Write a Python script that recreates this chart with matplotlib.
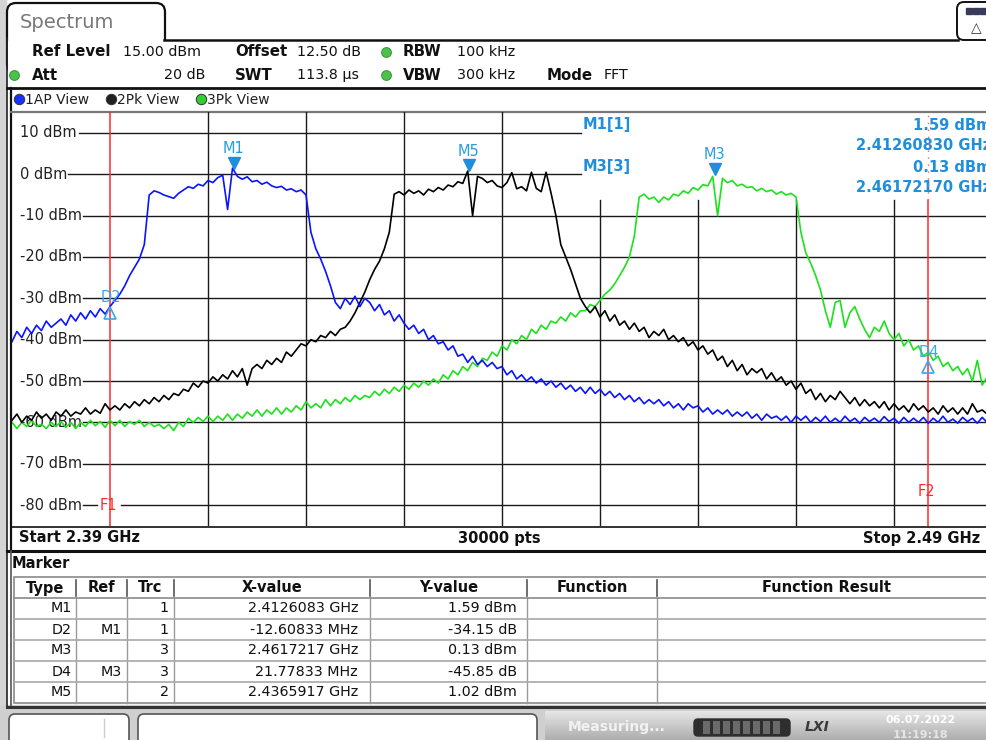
import numpy as np
import matplotlib.pyplot as plt
from matplotlib.patches import Rectangle, FancyBboxPatch
from matplotlib.transforms import offset_copy

W, H = 987, 740

# sweep 2.39 .. 2.49 GHz, one value every 0.5 MHz
freq_mhz = np.arange(2390.0, 2490.01, 0.5)

# trace 1, average detector (blue)
trace1_ap = [
    -40.5, -38.0, -39.5, -37.0, -38.5, -36.5, -37.8, -35.5, -37.0, -36.0,
    -35.0, -36.5, -34.0, -35.5, -33.5, -35.0, -33.0, -34.5, -32.5, -33.8,
    -32.0, -30.5, -29.0, -27.0, -24.5, -22.5, -20.5, -17.0, -5.0, -4.0,
    -4.4, -5.0, -5.4, -5.8, -4.6, -3.8, -3.0, -3.4, -2.4, -2.8,
    -1.5, -2.0, -0.8, -0.2, -8.5, 1.5, -0.5, -1.2, -0.6, -1.8,
    -1.5, -2.4, -1.9, -2.8, -3.2, -2.9, -3.8, -3.5, -4.2, -3.8,
    -5.0, -14.0, -18.0, -20.5, -23.5, -27.0, -31.0, -32.5, -30.0, -31.5,
    -29.5, -32.0, -30.0, -31.0, -33.0, -31.5, -34.0, -33.0, -35.5, -34.0,
    -36.0, -37.5, -36.5, -38.5, -37.5, -40.0, -39.0, -41.0, -40.5, -42.5,
    -41.5, -44.0, -43.5, -45.5, -44.0, -46.0, -45.0, -46.5, -45.5, -47.0,
    -46.5, -48.5, -47.5, -49.5, -48.5, -50.0, -49.0, -50.5, -49.5, -51.0,
    -50.0, -51.5, -50.5, -52.0, -51.0, -52.5, -51.5, -53.0, -51.5, -53.0,
    -52.0, -53.5, -52.5, -54.0, -53.0, -54.5, -53.5, -55.0, -54.0, -55.5,
    -54.5, -55.5, -54.5, -56.0, -55.0, -56.5, -55.5, -57.0, -55.5, -56.5,
    -56.0, -57.5, -56.5, -58.0, -57.0, -58.0, -57.0, -58.5, -57.5, -58.5,
    -57.5, -59.0, -58.0, -59.5, -58.0, -59.0, -58.5, -59.5, -58.5, -60.0,
    -58.5, -59.5, -58.5, -60.0, -58.8, -59.8, -58.5, -60.0, -59.0, -60.0,
    -58.5, -59.8, -59.0, -60.2, -58.8, -59.8, -59.0, -60.0, -58.6, -59.8,
    -59.0, -60.2, -58.8, -60.0, -59.0, -60.0, -58.8, -60.2, -59.0, -60.0,
    -58.5, -60.0, -59.2, -60.2, -58.8, -59.8, -59.0, -60.2, -58.8, -60.0,
    -59.5,
]

# trace 2, max peak (black)
trace2_pk = [
    -59.5, -58.0, -60.0, -58.5, -59.5, -57.5, -59.0, -58.0, -59.5, -57.5,
    -58.5, -57.0, -58.5, -57.5, -58.0, -56.5, -58.0, -57.0, -57.8, -55.5,
    -57.0, -56.0, -57.0, -55.5, -56.5, -55.0, -56.0, -54.5, -55.5, -54.0,
    -55.0, -53.5, -54.5, -53.0, -53.5, -52.0, -52.5, -50.5, -51.5, -50.0,
    -50.5, -49.0, -50.0, -48.5, -49.5, -47.5, -49.0, -47.0, -51.0, -47.0,
    -46.0, -47.0, -45.0, -46.0, -44.5, -45.5, -43.0, -44.0, -42.5, -41.0,
    -41.5, -40.0, -40.5, -39.0, -39.5, -38.0, -39.0, -37.5, -37.0, -35.5,
    -33.5, -31.0, -28.5, -25.5, -23.0, -21.0, -18.0, -14.0, -4.8, -4.2,
    -5.0, -3.8, -4.6, -4.0, -5.0, -3.6, -4.2, -3.2, -3.8, -2.6,
    -3.0, -1.8, -2.2, 0.8, -10.0, -0.5, -1.0, -2.0, -1.5, -2.8,
    -3.2, -2.0, 0.4, -3.5, -3.0, -4.0, 0.5, -3.4, -4.2, 0.5,
    -4.5, -10.0, -17.0, -20.0, -23.0, -26.5, -30.0, -32.0, -33.5, -32.0,
    -34.5, -33.0, -35.5, -34.0, -36.5, -35.5, -37.5, -36.0, -38.0, -37.0,
    -39.5, -38.0, -39.0, -37.5, -40.0, -39.0, -40.5, -39.5, -41.5, -40.5,
    -42.5, -41.5, -43.5, -42.5, -45.0, -44.0, -46.5, -45.0, -47.5, -46.0,
    -48.5, -47.0, -48.0, -47.0, -49.5, -48.0, -50.0, -49.0, -51.0, -50.0,
    -52.0, -50.5, -53.0, -52.0, -54.5, -53.0, -55.0, -53.5, -54.5, -52.5,
    -54.0, -55.5, -54.0, -56.0, -54.5, -56.0, -55.0, -56.5, -55.0, -57.0,
    -55.5, -57.0, -56.0, -57.5, -55.5, -57.0, -56.0, -57.5, -56.5, -58.0,
    -56.0, -57.5, -56.5, -58.0, -56.5, -58.0, -55.5, -57.5, -57.0, -58.0,
    -57.0,
]

# trace 3, max peak (green)
trace3_pk = [
    -60.0, -61.5, -60.0, -61.0, -59.5, -61.0, -60.5, -61.5, -60.0, -61.0,
    -59.8, -61.2, -60.0, -61.5, -60.0, -61.0, -59.5, -60.8, -59.8, -61.2,
    -59.5, -60.8, -59.5, -61.0, -59.8, -60.5, -59.5, -61.0, -60.0, -61.0,
    -60.5, -61.5, -60.5, -62.0, -60.0, -61.0, -59.0, -60.0, -58.8, -59.8,
    -58.5, -59.8, -58.5, -59.5, -58.0, -59.5, -58.0, -59.0, -57.5, -58.5,
    -57.0, -58.5, -57.0, -58.0, -56.5, -58.0, -56.5, -57.5, -56.0, -57.0,
    -55.0, -56.5, -55.5, -56.5, -54.5, -56.0, -54.5, -55.5, -54.0, -55.0,
    -53.5, -54.5, -53.5, -54.0, -52.5, -53.5, -52.0, -53.0, -51.5, -52.5,
    -51.0, -52.0, -50.5, -51.5, -50.0, -51.0, -49.5, -50.5, -48.5, -49.5,
    -47.5, -48.5, -46.5, -47.5, -45.5, -46.5, -44.5, -45.0, -43.0, -44.0,
    -41.5, -42.5, -40.0, -41.0, -39.0, -40.0, -37.5, -38.5, -36.5, -37.5,
    -35.5, -36.0, -34.5, -35.5, -33.5, -34.5, -33.0, -33.0, -31.5, -32.0,
    -30.5, -29.0, -28.0, -26.5, -24.5, -22.5, -20.0, -15.0, -5.5, -4.8,
    -6.0, -5.5, -6.8, -5.5, -6.2, -4.8, -5.2, -4.0, -4.6, -3.2,
    -3.8, -2.5, -2.8, -0.5, -10.0, -1.0, -2.0, -1.5, -2.8, -2.4,
    -3.2, -3.0, -4.0, -3.4, -4.2, -3.8, -4.8, -4.2, -5.0, -4.6,
    -5.5, -14.0, -19.0, -21.5, -24.5, -28.0, -33.0, -37.0, -31.0, -30.5,
    -37.0, -33.5, -32.0, -35.0, -37.5, -39.5, -37.0, -38.0, -35.5, -38.5,
    -40.0, -38.5, -41.5, -40.0, -42.5, -41.5, -44.0, -43.0, -45.0, -44.0,
    -46.5, -45.5, -47.5, -46.5, -48.5, -47.0, -50.0, -45.0, -51.0, -49.0,
    -50.5,
]

grid_levels = [10, 0, -10, -20, -30, -40, -50, -60, -70, -80]

# marker table
marker_type = ['M1', 'D2', 'M3', 'D4', 'M5']
marker_ref = ['', 'M1', '', 'M3', '']
marker_trc = [1, 1, 3, 3, 2]
marker_x = [2.4126083, -12.60833, 2.4617217, 21.77833, 2.4365917]  # GHz (M) / MHz (D)
marker_y = [1.59, -34.15, 0.13, -45.85, 1.02]                       # dBm (M) / dB (D)

f1_mhz, f2_mhz = 2400.0, 2483.5

mk_col = '#1f8fdc'
txt_col = '#222222'


def px2f(px):
    return 2390.0 + (px - 12.0) / 9.8


fig = plt.figure(figsize=(W / 100, H / 100), dpi=100)
bg = fig.add_axes([0, 0, 1, 1])
bg.set_axis_off()

# ---- window chrome ----
bg.add_patch(Rectangle((0, 0), 6, H, color='#d4d4d4', zorder=0))
bg.add_patch(FancyBboxPatch((7, 3), 158, 70, boxstyle='round,pad=0,rounding_size=9',
                            fc='white', ec='#111111', lw=1.6, zorder=1))
# hide the lower half of the tab outline, only its top shows
bg.add_patch(Rectangle((7.8, 41.2), 160, 40, color='white', zorder=1.5))
bg.plot([164, 958], [40, 40], color='#111111', lw=1.8, zorder=2)
bg.plot([7, 7], [38, 706], color='#222222', lw=1.2, zorder=2)
bg.text(20, 22, 'Spectrum', fontsize=14, color='#787878', va='center', zorder=3)

# small icon top right
bg.add_patch(FancyBboxPatch((957, 2), 40, 38, boxstyle='round,pad=0,rounding_size=7',
                            fc='white', ec='#111111', lw=1.4, zorder=2))
for k in range(3):
    bg.add_patch(Rectangle((966 + 7 * k, 8), 6, 6, fc='#3a3a5a', ec='#3a3a5a', zorder=3))
bg.text(976, 28, '△', fontsize=10, color='#333355', ha='center', va='center', zorder=3)

# header settings
hdr_b = dict(fontsize=10.8, fontweight='bold', color='#111111', va='center', zorder=3)
hdr_n = dict(fontsize=10.3, color='#111111', va='center', zorder=3)
bg.text(32, 52, 'Ref Level', **hdr_b)
bg.text(123, 52, '15.00 dBm', **hdr_n)
bg.text(235, 52, 'Offset', **hdr_b)
bg.text(297, 52, '12.50 dB', **hdr_n)
bg.text(403, 52, 'RBW', **hdr_b)
bg.text(457, 52, '100 kHz', **hdr_n)
bg.text(32, 75, 'Att', **hdr_b)
bg.text(205, 75, '20 dB', ha='right', **hdr_n)
bg.text(235, 75, 'SWT', **hdr_b)
bg.text(297, 75, '113.8 µs', **hdr_n)
bg.text(403, 75, 'VBW', **hdr_b)
bg.text(457, 75, '300 kHz', **hdr_n)
bg.text(547, 75, 'Mode', **hdr_b)
bg.text(604, 75, 'FFT', **hdr_n)
for cx, cy in [(386, 52), (14, 75), (386, 75)]:
    bg.plot(cx, cy, 'o', ms=7, mfc='#4cc24c', mec='#3a9a3a', mew=0.8, zorder=3)

bg.plot([7, 992], [88, 88], color='#111111', lw=2, zorder=2)
bg.plot([11, 11], [88, 551], color='#111111', lw=1.6, zorder=2)

# trace legend row
leg = [('1AP View', '#1530ff', 19), ('2Pk View', '#202020', 111), ('3Pk View', '#30d030', 201)]
for name, col, cx in leg:
    bg.plot(cx, 99, 'o', ms=7.5, mfc=col, mec='#333333', mew=0.7, zorder=3)
    bg.text(cx + 6, 99.5, name, fontsize=10, color='#222222', va='center', zorder=3)

bg.plot([11, 992], [112, 112], color='#777777', lw=1.6, zorder=2)
bg.plot([11, 992], [527, 527], color='#111111', lw=1.2, zorder=2)
bg.plot([7, 992], [551, 551], color='#111111', lw=2.2, zorder=2)

bg.text(19, 538, 'Start 2.39 GHz', fontsize=10.5, fontweight='bold', color='#111111', va='center')
bg.text(499, 538, '30000 pts', fontsize=10.5, fontweight='bold', color='#111111', va='center', ha='center')
bg.text(980, 538, 'Stop 2.49 GHz', fontsize=10.5, fontweight='bold', color='#111111', va='center', ha='right')

# marker info block (right column runs into the screen edge)
info_b = dict(fontsize=10.5, fontweight='bold', color=mk_col, va='center', zorder=3)
bg.text(583, 125, 'M1[1]', **info_b)
bg.text(583, 167, 'M3[3]', **info_b)
m1_f, m3_f = marker_x[0], marker_x[2]
bg.text(991, 125, f'{marker_y[0]:.2f} dBm', ha='right', **info_b)
bg.text(991, 145, f'{m1_f:.8f} GHz', ha='right', **info_b)
bg.text(991, 167, f'{marker_y[2]:.2f} dBm', ha='right', **info_b)
bg.text(991, 187, f'{m3_f:.8f} GHz', ha='right', **info_b)

# ---- marker table ----
bg.text(12, 564, 'Marker', fontsize=10.5, fontweight='bold', color='#111111', va='center')
cols = [14, 76, 127, 174, 370, 527, 657, 995]
heads = ['Type', 'Ref', 'Trc', 'X-value', 'Y-value', 'Function', 'Function Result']
row_top = 577
row_h = 21
bg.add_patch(Rectangle((14, row_top), 981, 126, fc='white', ec='#8a8a8a', lw=1.2, zorder=1))
for i, hname in enumerate(heads):
    bg.text((cols[i] + cols[i + 1]) / 2, row_top + 11, hname, fontsize=10.5, fontweight='bold',
            color='#111111', ha='center', va='center', zorder=3)
for c in cols[1:-1]:
    bg.plot([c, c], [row_top + 3, row_top + 19], color='#555555', lw=1.2, zorder=2)
    bg.plot([c, c], [row_top + 21, row_top + 126], color='#9a9a9a', lw=1.0, zorder=2)
for r in range(1, 6):
    y = row_top + r * row_h
    bg.plot([14, 995], [y, y], color='#8a8a8a' if r == 1 else '#a8a8a8', lw=1.2, zorder=2)

for r in range(5):
    yc = row_top + (r + 1) * row_h + 10.5
    is_delta = marker_type[r].startswith('D')
    xs = f'{marker_x[r]:.5f} MHz' if is_delta else f'{marker_x[r]:.7f} GHz'
    ys = f'{marker_y[r]:.2f} dB' if is_delta else f'{marker_y[r]:.2f} dBm'
    cells = [(marker_type[r], 72), (marker_ref[r], 122), (str(marker_trc[r]), 169),
             (xs, 358), (ys, 517)]
    for s, xr in cells:
        bg.text(xr, yc, s, fontsize=10.3, color='#111111', ha='right', va='center', zorder=3)

bg.plot([11, 11], [551, 706], color='#555555', lw=1.2, zorder=2)

# ---- status bar ----
bg.add_patch(Rectangle((0, 705), W, 35, color='#cfcfcf', zorder=1))
grad = np.linspace(0.90, 0.68, 30)[:, None]
bg.imshow(grad, extent=[545, W, 740, 711], cmap='gray', vmin=0, vmax=1, aspect='auto', zorder=1.2)
bg.plot([7, 992], [707, 707], color='#333333', lw=2.2, zorder=2)
bg.add_patch(FancyBboxPatch((9, 714), 120, 40, boxstyle='round,pad=0,rounding_size=6',
                            fc='white', ec='#555555', lw=1.2, zorder=2))
bg.plot([104, 104], [719, 737], color='#cccccc', lw=1, zorder=3)
bg.add_patch(FancyBboxPatch((138, 714), 399, 40, boxstyle='round,pad=0,rounding_size=6',
                            fc='white', ec='#555555', lw=1.2, zorder=2))
bg.text(568, 727, 'Measuring...', fontsize=10, fontweight='bold', color='#f2f2f2', va='center', zorder=3)
bg.add_patch(FancyBboxPatch((694, 719), 96, 17, boxstyle='round,pad=0,rounding_size=4',
                            fc='#2e2e2e', ec='#2e2e2e', zorder=3))
for k in range(8):
    bg.add_patch(Rectangle((703 + 10 * k, 721), 7, 13, fc='#6a6a6a', ec='none', zorder=4))
bg.text(817, 727, 'LXI', fontsize=10, fontweight='bold', style='italic', color='#3a3a3a',
        ha='center', va='center', zorder=3)
bg.text(921, 720, '06.07.2022', fontsize=8, fontweight='bold', color='white', ha='center',
        va='center', zorder=3)
bg.text(921, 735, '11:19:18', fontsize=8, fontweight='bold', color='#e6e6e6', ha='center',
        va='center', zorder=3)

bg.set_xlim(0, W)
bg.set_ylim(H, 0)

# ---- spectrum diagram ----
ax = fig.add_axes([12 / W, 1 - 525.7 / H, 980 / W, (525.7 - 112.3) / H])
ax.set_xlim(2390, 2490)
ax.set_ylim(-85, 15)
ax.set_axis_off()

grid_kw = dict(color='#1a1a1a', lw=1.0, zorder=1)
label_end = {10: 79, 0: 68}
for lvl in grid_levels:
    start = px2f(label_end.get(lvl, 83))
    end = px2f(581) if lvl > -5 else 2490
    if lvl == -80:
        ax.plot([start, px2f(97)], [lvl, lvl], **grid_kw)
        ax.plot([px2f(121), end], [lvl, lvl], **grid_kw)
    else:
        ax.plot([start, end], [lvl, lvl], **grid_kw)
    ax.text(px2f(20), lvl, f'{lvl} dBm', fontsize=10.5, color=txt_col, va='center', zorder=1)

# vertical divisions stop below the marker info block on the right
info_bottom = 15 - (200 - 112.3) / 4.134
for f in range(2410, 2490, 10):
    top = 15 if f < 2445 else info_bottom
    ax.plot([f, f], [-85, top], **grid_kw)

# display lines F1 / F2
ax.plot([f1_mhz, f1_mhz], [-85, 15], color='#ff2a2a', lw=1.1, zorder=2)
ax.plot([f2_mhz, f2_mhz], [-85, info_bottom], color='#ff2a2a', lw=1.1, zorder=2)
ax.plot([f2_mhz, f2_mhz], [info_bottom, 15], color='#ff6060', lw=1.0, ls=(0, (1, 4)), zorder=2)
ax.text(f1_mhz - 0.2, -80, 'F1', fontsize=10.5, color='#ff2a2a', ha='center', va='center', zorder=2)
ax.text(f2_mhz - 0.2, -76.8, 'F2', fontsize=10.5, color='#ff2a2a', ha='center', va='center', zorder=2)

# traces
ax.plot(freq_mhz, trace3_pk, color='#1ee01e', lw=1.2, zorder=3)
ax.plot(freq_mhz, trace2_pk, color='#000000', lw=1.2, zorder=4)
ax.plot(freq_mhz, trace1_ap, color='#0a14ff', lw=1.2, zorder=5)

# markers
tri_down = offset_copy(ax.transData, fig=fig, x=0, y=5, units='dots')
tri_up = offset_copy(ax.transData, fig=fig, x=0, y=-4, units='dots')
lab_m = offset_copy(ax.transData, fig=fig, x=0, y=19, units='dots')
lab_d = offset_copy(ax.transData, fig=fig, x=1, y=11, units='dots')
pos = {}
for r in range(5):
    name = marker_type[r]
    if name.startswith('M'):
        fm = marker_x[r] * 1000
        lv = marker_y[r]
        pos[name] = (fm, lv)
        ax.plot(fm, lv, marker='v', ms=8.5, color=mk_col, transform=tri_down, zorder=7)
        ax.text(fm, lv, name, fontsize=10.5, color='#2a9be6', ha='center', va='center',
                transform=lab_m, zorder=7)
for r in range(5):
    name = marker_type[r]
    if name.startswith('D'):
        rf, rl = pos[marker_ref[r]]
        fm = rf + marker_x[r]
        lv = rl + marker_y[r]
        ax.plot(fm, lv, marker='^', ms=9, mfc='none', mec='#3aa6ee', mew=1.2,
                transform=tri_up, zorder=7)
        ax.text(fm, lv, name, fontsize=10.5, color='#3aa6ee', ha='center', va='center',
                transform=lab_d, zorder=7)

fig.savefig('out.png', dpi=100)
